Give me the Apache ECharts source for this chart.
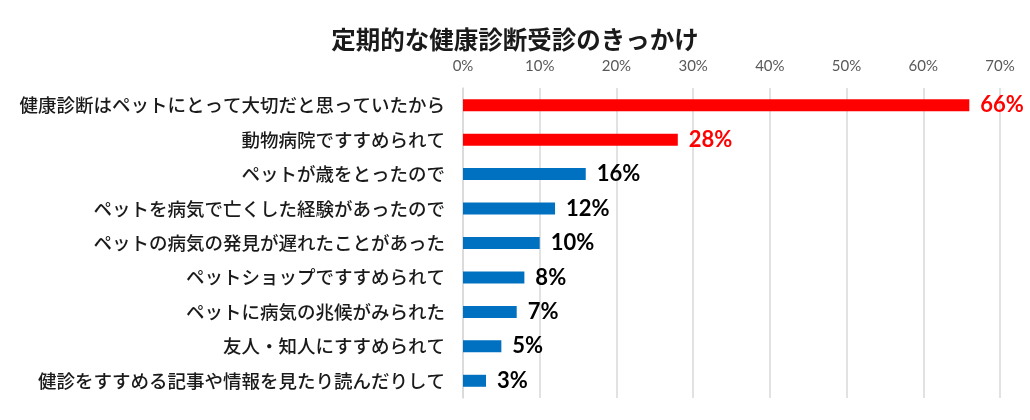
<!DOCTYPE html>
<html>
<head>
<meta charset="utf-8">
<script src="https://cdn.jsdelivr.net/npm/echarts@6/dist/echarts.min.js"></script>
<style>
html,body{margin:0;padding:0;background:#fff;}
#chart{width:1030px;height:420px;}
</style>
</head>
<body>
<div id="chart"></div>
<script>
const titleText = '定期的な健康診断受診のきっかけ';
const categories = [
  '健康診断はペットにとって大切だと思っていたから',
  '動物病院ですすめられて',
  'ペットが歳をとったので',
  'ペットを病気で亡くした経験があったので',
  'ペットの病気の発見が遅れたことがあった',
  'ペットショップですすめられて',
  'ペットに病気の兆候がみられた',
  '友人・知人にすすめられて',
  '健診をすすめる記事や情報を見たり読んだりして'
];
const values = [66, 28, 16, 12, 10, 8, 7, 5, 3];
const xTicks = [0, 10, 20, 30, 40, 50, 60, 70];

const RED = '#FF0000', BLUE = '#0070C0';
const chart = echarts.init(document.getElementById('chart'), null, {renderer: 'canvas'});
chart.setOption({
  animation: false,
  backgroundColor: '#ffffff',
  title: {
    text: titleText,
    left: 'center',
    top: 22,
    textStyle: {fontFamily: 'Noto Sans CJK JP', fontSize: 24.5, fontWeight: 'bold', color: '#1a1a1a'}
  },
  grid: {left: 463, right: 30, top: 88, bottom: 22, containLabel: false},
  xAxis: {
    type: 'value',
    position: 'top',
    min: xTicks[0],
    max: xTicks[xTicks.length - 1],
    interval: xTicks[1] - xTicks[0],
    axisLine: {show: false},
    axisTick: {show: false},
    axisLabel: {
      formatter: '{value}%',
      color: '#595959',
      fontFamily: 'Lato',
      fontSize: 15,
      margin: 14
    },
    splitLine: {show: true, lineStyle: {color: '#d9d9d9', width: 1.5}}
  },
  yAxis: {
    type: 'category',
    inverse: true,
    data: categories,
    axisLine: {show: true, lineStyle: {color: '#d9d9d9', width: 1.5}},
    axisTick: {show: false},
    axisLabel: {
      color: '#1a1a1a',
      fontFamily: 'Noto Sans CJK JP',
      fontSize: 18.5,
      fontWeight: 500,
      margin: 18
    }
  },
  series: [{
    type: 'bar',
    barWidth: 12,
    data: values.map((v, i) => ({
      value: v,
      itemStyle: {color: i < 2 ? RED : BLUE},
      label: {color: i < 2 ? RED : '#000000'}
    })),
    label: {
      show: true,
      position: 'right',
      distance: 11,
      formatter: '{c}%',
      fontFamily: 'Lato',
      fontWeight: 'bold',
      fontSize: 22
    }
  }]
});
</script>
</body>
</html>
